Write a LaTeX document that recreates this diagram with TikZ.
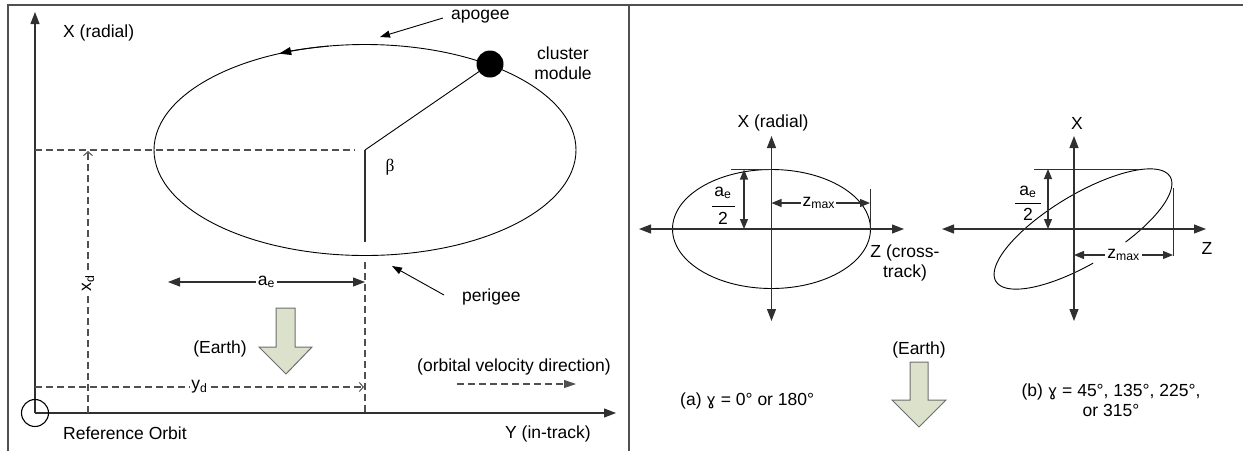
\documentclass[tikz,border=0pt]{standalone}
\usepackage{fontspec}
\setmainfont{Liberation Sans}
\newfontfamily\serifgr{Liberation Serif}
\newfontfamily\dejavu{DejaVu Sans}
\usetikzlibrary{arrows.meta,calc}
\definecolor{axisgray}{HTML}{303030}
\definecolor{framegray}{HTML}{505050}
\definecolor{dashgray}{HTML}{505050}
\definecolor{earthfill}{HTML}{DCE1CC}
\definecolor{earthline}{HTML}{6E6E6E}
\newcommand{\gam}{{\dejavu\fontsize{16}{20}\selectfont ɣ}}
\begin{document}
\begin{tikzpicture}[x=1pt,y=-1pt,
  font=\fontsize{17.5}{20}\selectfont,
  txt/.style={inner sep=0pt},
  dimlabel/.style={fill=white,inner sep=1.5pt},
  frameline/.style={line width=1.8pt,draw=framegray},
  axisline/.style={line width=1.1pt,draw=axisgray},
  orbitline/.style={line width=0.9pt,draw=black},
  dashline/.style={line width=1.1pt,draw=dashgray,dash pattern=on 7pt off 4pt},
  bigtip/.style={-{Triangle[length=12pt,width=9pt]}},
  bothtip/.style={{Triangle[length=12pt,width=9pt]}-{Triangle[length=12pt,width=9pt]}},
  smalltip/.style={{Triangle[length=10pt,width=8pt]}-{Triangle[length=10pt,width=8pt]}},
  ptr/.style={line width=0.9pt,-{Triangle[length=10pt,width=7pt]}},
  barb/.style={-{Straight Barb[length=4pt,width=9pt,line width=1pt]}},
  earth/.style={draw=earthline,fill=earthfill,line width=1pt,line join=miter},
  tick/.style={line width=1pt,draw=axisgray}
]
\useasboundingbox (0,0) rectangle (1243,451);

% ---------- frame ----------
\coordinate (FBL) at (8,451);
\coordinate (FTL) at (8,5);
\coordinate (FTR) at (1243,5);
\coordinate (STop) at (629,5);
\coordinate (SBot) at (629,451);
\draw[frameline] (FBL) -- (FTL) -- (FTR);
\draw[frameline] (STop) -- (SBot);

% ---------- left panel ----------
\coordinate (O) at (35,413);
\coordinate (Xtop) at (35,12);
\coordinate (Yend) at (616,413);
\draw[axisline,bigtip] (O) -- (Xtop);
\draw[axisline,bigtip] (O) -- (Yend);
\draw[line width=1.1pt] (O) circle[radius=13.5];

\coordinate (C) at (365,150);
\draw[orbitline] (C) ellipse[x radius=211,y radius=105.5];
\draw[orbitline,-{Triangle[length=12pt,width=8pt]}]
  ($(C)+(-100:211 and 105.5)$) arc[start angle=-100,end angle=-114,x radius=211,y radius=105.5];

\coordinate (M) at (490,64);
\draw[orbitline] (C) -- (M);
\fill (M) circle[radius=13.5];

\coordinate (Cb) at (365,242);
\draw[axisline] (C) -- (Cb);
\coordinate (Vtop) at (365,262);
\coordinate (Vbot) at (365,413);
\draw[dashline] (Vtop) -- (Vbot);

\node[txt] (beta) at (390,167) {\serifgr β};

% x_d
\coordinate (H1) at (35,150);
\coordinate (H2) at (355,150);
\draw[dashline] (H1) -- (H2);
\coordinate (Xd0) at (88,413);
\coordinate (Xd1) at (88,151);
\draw[dashline,barb] (Xd0) -- (Xd1);
\node[dimlabel,rotate=90] (xd) at (88,283) {x\textsubscript{d}};

% y_d
\coordinate (Yd0) at (35,387);
\coordinate (Yd1) at (364,387);
\draw[dashline,barb] (Yd0) -- (Yd1) node[dimlabel,pos=0.5] (yd) {y\textsubscript{d}};

% a_e
\coordinate (Ae0) at (168,282);
\coordinate (Ae1) at (365,282);
\draw[axisline,bothtip] (Ae0) -- (Ae1) node[dimlabel,pos=0.5] (ae) {a\textsubscript{e}};

% Earth arrow (left)
\draw[earth] (276,308) -- (295,308) -- (295,347) -- (312,347) -- (286,374) -- (259,347) -- (276,347) -- cycle;
\node[txt] (earthL) at (220,349) {(Earth)};

% labels
\node[txt,anchor=west] (xrad) at (63,33) {X (radial)};
\node[txt,anchor=west] (apo) at (451,17) {apogee};
\coordinate (apoS) at (443,18);
\coordinate (apoT) at (380,37);
\draw[ptr] (apoS) -- (apoT);
\node[txt,align=center] (clus) at (563,63) {cluster\\module};
\node[txt,anchor=west] (peri) at (462,297) {perigee};
\coordinate (periS) at (444,295);
\coordinate (periT) at (392,266);
\draw[ptr] (periS) -- (periT);
\node[txt,anchor=west] (ovd) at (417,367) {(orbital velocity direction)};
\coordinate (OvA) at (457,384);
\coordinate (OvB) at (576,384);
\draw[dashline,-{Triangle[length=12pt,width=8pt]}] (OvA) -- (OvB);
\node[txt,anchor=west] (refo) at (63,433) {Reference Orbit};
\node[txt,anchor=west] (ytr) at (505,434) {Y (in-track)};

% ---------- right panel (a) ----------
\coordinate (Ca) at (771.5,229);
\coordinate (AxT) at (771.5,136);
\coordinate (AxB) at (771.5,321);
\coordinate (AzL) at (639,229);
\coordinate (AzR) at (904,229);
\draw[orbitline] (Ca) ellipse[x radius=99,y radius=59.5];
\draw[axisline,bothtip] (AxB) -- (AxT);
\draw[axisline,bothtip] (AzL) -- (AzR);
\node[txt] (xrada) at (773,123) {X (radial)};
\node[txt,align=center] (zct) at (905,263) {Z (cross-\\track)};
\coordinate (TanA0) at (731,169.5);
\coordinate (TanA1) at (771.5,169.5);
\draw[tick] (TanA0) -- (TanA1);
\coordinate (HaT) at (744,169.5);
\coordinate (HaB) at (744,229);
\draw[axisline,smalltip] (HaT) -- (HaB);
\node[txt] (aenA) at (723,193) {a\textsubscript{e}};
\coordinate (FbA0) at (712,206);
\coordinate (FbA1) at (735,206);
\draw[line width=0.9pt] (FbA0) -- (FbA1);
\node[txt] (twoA) at (723,218) {2};
\coordinate (TkA0) at (870,189);
\coordinate (TkA1) at (870,229);
\draw[tick] (TkA0) -- (TkA1);
\coordinate (ZmA0) at (771.5,203);
\coordinate (ZmA1) at (870,203);
\draw[axisline,smalltip] (ZmA0) -- (ZmA1) node[dimlabel,pos=0.48] (zmA) {z\textsubscript{max}};
\node[txt,anchor=west] (capA) at (680,401) {(a) \gam{} = 0° or 180°};

% ---------- right panel (b) ----------
\coordinate (BxT) at (1074,136);
\coordinate (BxB) at (1074,321);
\coordinate (BzL) at (942,229);
\coordinate (BzR) at (1206,229);
% tilted orbit, open where the z_max label sits
\draw[orbitline] plot[domain=95:433,samples=140,smooth]
  ({1083+101.6*cos(\x)*0.8572+34.6*sin(\x)*0.5150},
   {229-101.6*cos(\x)*0.5150+34.6*sin(\x)*0.8572});
\draw[axisline,bothtip] (BxB) -- (BxT);
\draw[axisline,bothtip] (BzL) -- (BzR);
\node[txt] (xb) at (1077,123) {X};
\node[txt] (zb) at (1207,248) {Z};
\coordinate (TanB0) at (1034,169);
\coordinate (TanB1) at (1140,169);
\draw[tick] (TanB0) -- (TanB1);
\coordinate (HbT) at (1048,169);
\coordinate (HbB) at (1048,229);
\draw[axisline,smalltip] (HbT) -- (HbB);
\node[txt] (aenB) at (1028,192) {a\textsubscript{e}};
\coordinate (FbB0) at (1015,203);
\coordinate (FbB1) at (1041,203);
\draw[line width=0.9pt] (FbB0) -- (FbB1);
\node[txt] (twoB) at (1028,214) {2};
\coordinate (TkB0) at (1173,188);
\coordinate (TkB1) at (1173,256);
\draw[tick] (TkB0) -- (TkB1);
\coordinate (ZmB0) at (1074,255);
\coordinate (ZmB1) at (1173,255);
\draw[axisline,smalltip] (ZmB0) -- (ZmB1) node[dimlabel,pos=0.5,inner xsep=2pt] (zmB) {z\textsubscript{max}};
\node[txt,align=center] (capB) at (1111,400) {(b) \gam{} = 45°, 135°, 225°,\\or 315°};

% Earth arrow (right)
\draw[earth] (910,362) -- (928,362) -- (928,400) -- (946,400) -- (919,427) -- (892,400) -- (910,400) -- cycle;
\node[txt] (earthR) at (919,350) {(Earth)};
\end{tikzpicture}
\end{document}
